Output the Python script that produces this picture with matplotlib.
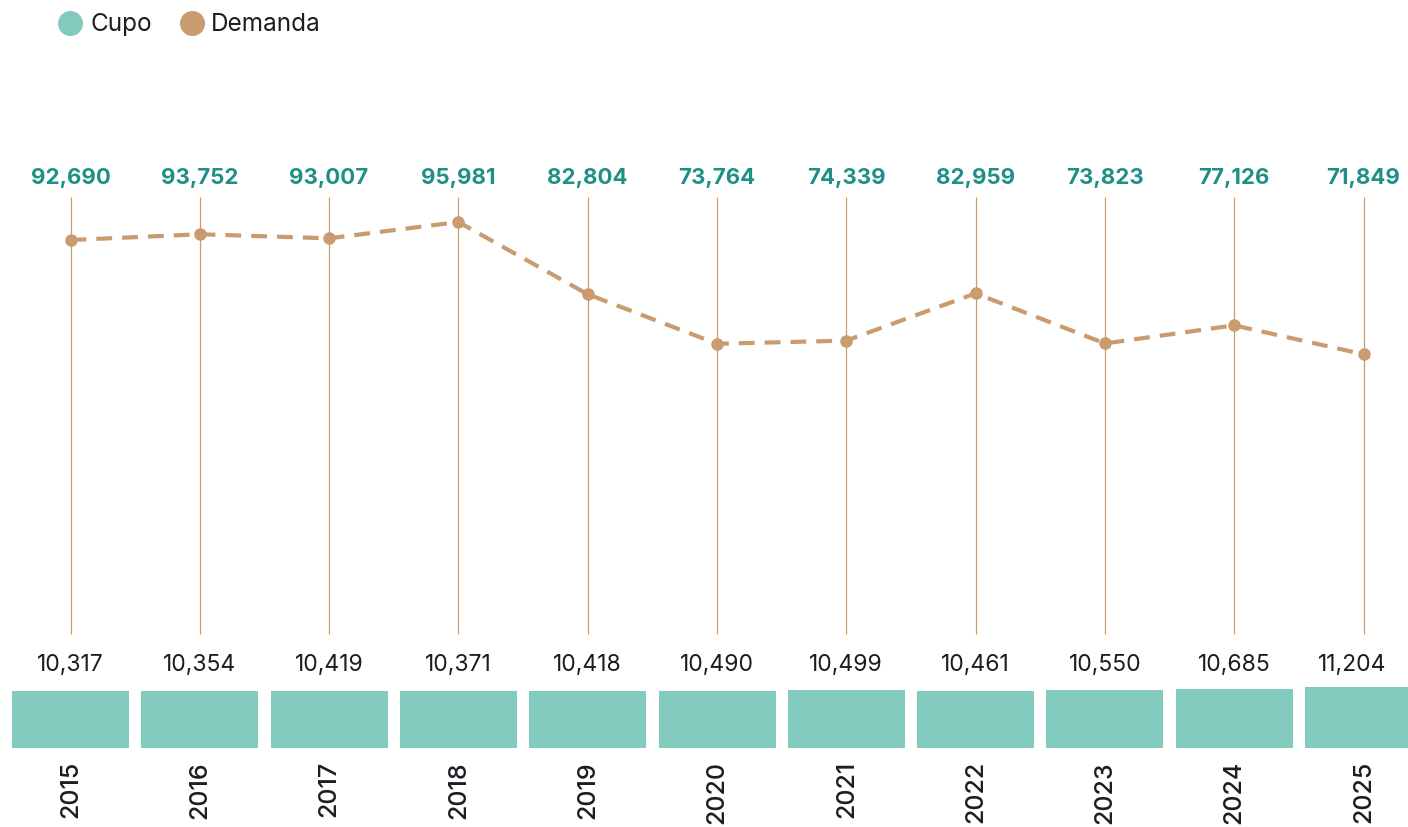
import matplotlib.pyplot as plt
from matplotlib.lines import Line2D

# data
years = ["2015", "2016", "2017", "2018", "2019", "2020",
         "2021", "2022", "2023", "2024", "2025"]
cupo = [10317, 10354, 10419, 10371, 10418, 10490,
        10499, 10461, 10550, 10685, 11204]
demanda = [92690, 93752, 93007, 95981, 82804, 73764,
           74339, 82959, 73823, 77126, 71849]

BAR = "#82cabd"
TAN = "#c99b6e"
TEAL = "#1e9086"
DARK = "#1c1c22"

plt.rcParams["font.family"] = ["Inter", "DejaVu Sans"]

fig = plt.figure(figsize=(14.08, 8.27), dpi=100)
ax = fig.add_axes([0, 0, 1, 1])

# pixel geometry -> data limits
step = 129.3
x0 = 70.5
ax.set_xlim(-x0 / step, (1408 - x0) / step)
scale = 0.00548  # px per unit
base_px = 748
ax.set_ylim(-(827 - base_px) / scale, base_px / scale)


def py(px):
    return (base_px - px) / scale


x = list(range(len(years)))

ax.bar(x, cupo, width=117 / step, color=BAR, zorder=2)

ax.vlines(x, py(634), py(197), color=TAN, lw=0.9, zorder=1)

ax.plot(x, demanda, color=TAN, lw=3, dashes=(3.8, 2.4),
        marker="o", markersize=8, zorder=3)

for i in x:
    ax.text(i, py(178), f"{demanda[i]:,}", ha="center", va="center",
            fontsize=16, fontweight="bold", color=TEAL)
    dx = -0.09 if i == len(x) - 1 else 0
    ax.text(i + dx, py(665), f"{cupo[i]:,}", ha="center", va="center",
            fontsize=16.5, color=DARK)
    ax.text(i, py(761), years[i], ha="center", va="top", rotation=90,
            fontsize=18, fontweight="medium", color=DARK)

ax.axis("off")

# legend
ly = 1 - 23 / 827
for cx, tx, col, lab in [(70, 90, BAR, "Cupo"), (192, 211, TAN, "Demanda")]:
    fig.add_artist(Line2D([cx / 1408], [ly], marker="o", markersize=17,
                          color=col, linestyle="none",
                          transform=fig.transFigure))
    fig.text(tx / 1408, ly - 0.002, lab, color=DARK, fontsize=17.5,
             va="center", ha="left")

fig.savefig("out.png", dpi=100)
